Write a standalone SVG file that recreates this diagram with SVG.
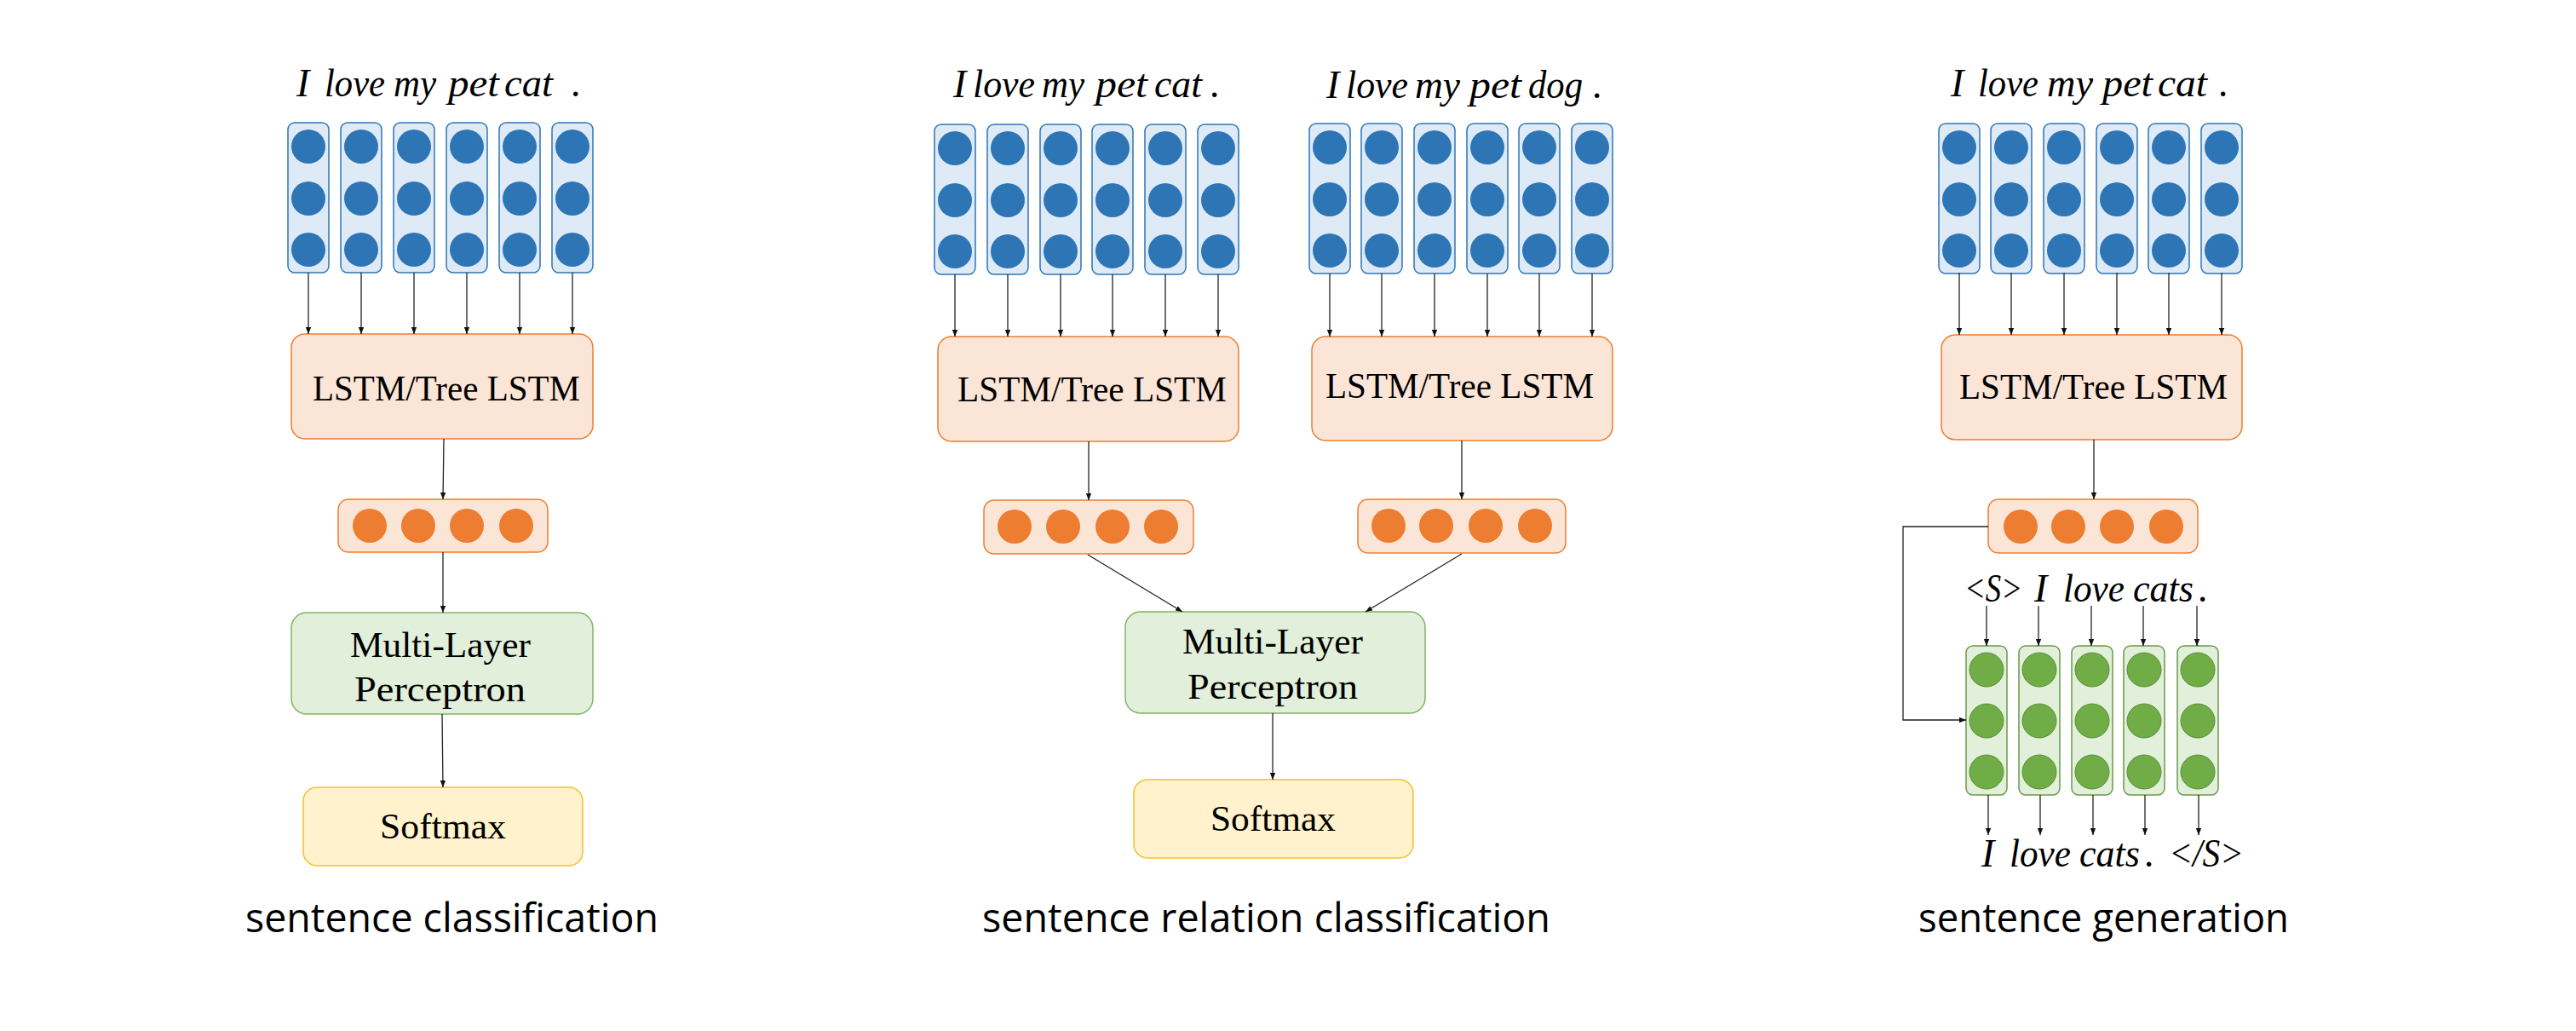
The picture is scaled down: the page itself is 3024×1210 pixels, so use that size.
<svg xmlns="http://www.w3.org/2000/svg" width="3024" height="1210" viewBox="0 0 3024 1210">
<style>
.bg{fill:#ffffff}
.bcol{fill:#deebf7;stroke:#2e75b6;stroke-width:1.5}
.bdot{fill:#2e75b6}
.ocol{fill:#fbe5d6;stroke:#ed7d31;stroke-width:1.5}
.odot{fill:#ed7d31}
.gcol{fill:#e2efda;stroke:#6a9a4a;stroke-width:1.5}
.gdot{fill:#70ad47;stroke:#5a8f3a;stroke-width:1}
.mlp{fill:#e2efda;stroke:#82b366;stroke-width:1.5}
.soft{fill:#fff2cc;stroke:#f2c12e;stroke-width:1.5}
.lstm{fill:#fbe5d6;stroke:#ed7d31;stroke-width:1.5}
.lbl{font-family:"Liberation Serif","DejaVu Serif",serif;font-size:43px;fill:#000}
.it{font-family:"Liberation Serif","DejaVu Serif",serif;font-style:italic;font-size:46px;fill:#000}
.cap{font-family:"Open Sans","DejaVu Sans",sans-serif;font-size:47px;fill:#000}
.arr{stroke:#222;stroke-width:1.3;fill:none;marker-end:url(#ah)}
</style>
<defs>
<marker id="ah" markerUnits="userSpaceOnUse" markerWidth="10" markerHeight="8" refX="8" refY="4" orient="auto">
<path d="M0,0.8 L8,4 L0,7.2 z" fill="#111"/>
</marker>
<g id="bcolumn">
<rect class="bcol" x="0" y="0" width="48" height="176" rx="8"/>
<circle class="bdot" cx="24" cy="28" r="20"/>
<circle class="bdot" cx="24" cy="89" r="20"/>
<circle class="bdot" cx="24" cy="149" r="20"/>
</g>
<g id="gcolumn">
<rect class="gcol" x="0" y="0" width="48" height="175" rx="8"/>
<circle class="gdot" cx="24" cy="28" r="20"/>
<circle class="gdot" cx="24" cy="88" r="20"/>
<circle class="gdot" cx="24" cy="148" r="20"/>
</g>
</defs>
<rect class="bg" x="0" y="0" width="3024" height="1210"/>

<!-- ============ Panel 1: sentence classification ============ -->
<g id="p1-input">
<text class="it" x="348" y="113">I</text>
<text class="it" x="381" y="113" textLength="71" lengthAdjust="spacingAndGlyphs">love</text>
<text class="it" x="462" y="113" textLength="50" lengthAdjust="spacingAndGlyphs">my</text>
<text class="it" x="526" y="113" textLength="60" lengthAdjust="spacingAndGlyphs">pet</text>
<text class="it" x="592" y="113" textLength="57" lengthAdjust="spacingAndGlyphs">cat</text>
<text class="it" x="671" y="113">.</text>
<use href="#bcolumn" x="338" y="144"/>
<use href="#bcolumn" x="400" y="144"/>
<use href="#bcolumn" x="462" y="144"/>
<use href="#bcolumn" x="524" y="144"/>
<use href="#bcolumn" x="586" y="144"/>
<use href="#bcolumn" x="648" y="144"/>
</g>
<g id="p1-lstm">
<rect class="lstm" x="342" y="392" width="354" height="123" rx="16"/>
<text class="lbl" x="367" y="470" textLength="314" lengthAdjust="spacingAndGlyphs">LSTM/Tree LSTM</text>
</g>
<g id="p1-hidden">
<rect class="ocol" x="397" y="586" width="246" height="62" rx="12"/>
<circle class="odot" cx="434" cy="617" r="20"/>
<circle class="odot" cx="491" cy="617" r="20"/>
<circle class="odot" cx="548" cy="617" r="20"/>
<circle class="odot" cx="606" cy="617" r="20"/>
</g>
<g id="p1-mlp">
<rect class="mlp" x="342" y="719" width="354" height="119" rx="18"/>
<text class="lbl" x="411" y="771" textLength="212" lengthAdjust="spacingAndGlyphs">Multi-Layer</text>
<text class="lbl" x="416" y="823" textLength="201" lengthAdjust="spacingAndGlyphs">Perceptron</text>
</g>
<g id="p1-softmax">
<rect class="soft" x="356" y="924" width="328" height="92" rx="16"/>
<text class="lbl" x="446" y="984" textLength="148" lengthAdjust="spacingAndGlyphs">Softmax</text>
</g>
<text id="p1-caption" class="cap" x="288" y="1094" textLength="485" lengthAdjust="spacingAndGlyphs">sentence classification</text>

<!-- ============ Panel 2: sentence relation classification ============ -->
<g id="p2-input-a">
<text class="it" x="1119" y="114">I</text>
<text class="it" x="1142" y="114" textLength="73" lengthAdjust="spacingAndGlyphs">love</text>
<text class="it" x="1223" y="114" textLength="50" lengthAdjust="spacingAndGlyphs">my</text>
<text class="it" x="1286" y="114" textLength="61" lengthAdjust="spacingAndGlyphs">pet</text>
<text class="it" x="1355" y="114" textLength="56" lengthAdjust="spacingAndGlyphs">cat</text>
<text class="it" x="1421" y="114">.</text>
<use href="#bcolumn" x="1097" y="146"/>
<use href="#bcolumn" x="1159" y="146"/>
<use href="#bcolumn" x="1221" y="146"/>
<use href="#bcolumn" x="1282" y="146"/>
<use href="#bcolumn" x="1344" y="146"/>
<use href="#bcolumn" x="1406" y="146"/>
</g>
<g id="p2-input-b">
<text class="it" x="1557" y="115">I</text>
<text class="it" x="1580" y="115" textLength="73" lengthAdjust="spacingAndGlyphs">love</text>
<text class="it" x="1661" y="115" textLength="53" lengthAdjust="spacingAndGlyphs">my</text>
<text class="it" x="1725" y="115" textLength="61" lengthAdjust="spacingAndGlyphs">pet</text>
<text class="it" x="1794" y="115" textLength="64" lengthAdjust="spacingAndGlyphs">dog</text>
<text class="it" x="1870" y="115">.</text>
<use href="#bcolumn" x="1537" y="145"/>
<use href="#bcolumn" x="1598" y="145"/>
<use href="#bcolumn" x="1660" y="145"/>
<use href="#bcolumn" x="1722" y="145"/>
<use href="#bcolumn" x="1783" y="145"/>
<use href="#bcolumn" x="1845" y="145"/>
</g>
<g id="p2-lstm-a">
<rect class="lstm" x="1101" y="395" width="353" height="123" rx="16"/>
<text class="lbl" x="1124" y="471" textLength="316" lengthAdjust="spacingAndGlyphs">LSTM/Tree LSTM</text>
</g>
<g id="p2-lstm-b">
<rect class="lstm" x="1540" y="395" width="353" height="122" rx="16"/>
<text class="lbl" x="1556" y="467" textLength="315" lengthAdjust="spacingAndGlyphs">LSTM/Tree LSTM</text>
</g>
<g id="p2-hidden-a">
<rect class="ocol" x="1155" y="587" width="246" height="63" rx="12"/>
<circle class="odot" cx="1191" cy="618" r="20"/>
<circle class="odot" cx="1248" cy="618" r="20"/>
<circle class="odot" cx="1306" cy="618" r="20"/>
<circle class="odot" cx="1363" cy="618" r="20"/>
</g>
<g id="p2-hidden-b">
<rect class="ocol" x="1594" y="586" width="244" height="63" rx="12"/>
<circle class="odot" cx="1630" cy="617" r="20"/>
<circle class="odot" cx="1686" cy="617" r="20"/>
<circle class="odot" cx="1744" cy="617" r="20"/>
<circle class="odot" cx="1802" cy="617" r="20"/>
</g>
<g id="p2-mlp">
<rect class="mlp" x="1321" y="718" width="352" height="119" rx="18"/>
<text class="lbl" x="1388" y="767" textLength="212" lengthAdjust="spacingAndGlyphs">Multi-Layer</text>
<text class="lbl" x="1394" y="820" textLength="200" lengthAdjust="spacingAndGlyphs">Perceptron</text>
</g>
<g id="p2-softmax">
<rect class="soft" x="1331" y="915" width="328" height="92" rx="16"/>
<text class="lbl" x="1421" y="975" textLength="147" lengthAdjust="spacingAndGlyphs">Softmax</text>
</g>
<text id="p2-caption" class="cap" x="1153" y="1094" textLength="667" lengthAdjust="spacingAndGlyphs">sentence relation classification</text>

<!-- ============ Panel 3: sentence generation ============ -->
<g id="p3-input">
<text class="it" x="2290" y="113">I</text>
<text class="it" x="2322" y="113" textLength="71" lengthAdjust="spacingAndGlyphs">love</text>
<text class="it" x="2403" y="113" textLength="54" lengthAdjust="spacingAndGlyphs">my</text>
<text class="it" x="2468" y="113" textLength="59" lengthAdjust="spacingAndGlyphs">pet</text>
<text class="it" x="2533" y="113" textLength="58" lengthAdjust="spacingAndGlyphs">cat</text>
<text class="it" x="2605" y="113">.</text>
<use href="#bcolumn" x="2276" y="145"/>
<use href="#bcolumn" x="2337" y="145"/>
<use href="#bcolumn" x="2399" y="145"/>
<use href="#bcolumn" x="2461" y="145"/>
<use href="#bcolumn" x="2522" y="145"/>
<use href="#bcolumn" x="2584" y="145"/>
</g>
<g id="p3-lstm">
<rect class="lstm" x="2279" y="393" width="353" height="123" rx="16"/>
<text class="lbl" x="2300" y="468" textLength="315" lengthAdjust="spacingAndGlyphs">LSTM/Tree LSTM</text>
</g>
<g id="p3-hidden">
<rect class="ocol" x="2334" y="586" width="246" height="63" rx="12"/>
<circle class="odot" cx="2372" cy="618" r="20"/>
<circle class="odot" cx="2428" cy="618" r="20"/>
<circle class="odot" cx="2485" cy="618" r="20"/>
<circle class="odot" cx="2543" cy="618" r="20"/>
</g>
<g id="p3-decoder">
<text class="it" x="2306" y="706" textLength="68" lengthAdjust="spacingAndGlyphs">&lt;S&gt;</text>
<text class="it" x="2388" y="706">I</text>
<text class="it" x="2422" y="706" textLength="72" lengthAdjust="spacingAndGlyphs">love</text>
<text class="it" x="2504" y="706" textLength="71" lengthAdjust="spacingAndGlyphs">cats</text>
<text class="it" x="2581" y="706">.</text>
<use href="#gcolumn" x="2308" y="758"/>
<use href="#gcolumn" x="2370" y="758"/>
<use href="#gcolumn" x="2432" y="758"/>
<use href="#gcolumn" x="2493" y="758"/>
<use href="#gcolumn" x="2556" y="758"/>
<text class="it" x="2326" y="1017">I</text>
<text class="it" x="2359" y="1017" textLength="72" lengthAdjust="spacingAndGlyphs">love</text>
<text class="it" x="2441" y="1017" textLength="71" lengthAdjust="spacingAndGlyphs">cats</text>
<text class="it" x="2518" y="1017">.</text>
<text class="it" x="2546" y="1017" textLength="88" lengthAdjust="spacingAndGlyphs">&lt;/S&gt;</text>
</g>
<text id="p3-caption" class="cap" x="2252" y="1094" textLength="435" lengthAdjust="spacingAndGlyphs">sentence generation</text>

<!-- ============ Connectors ============ -->
<g id="connectors">
<!-- panel 1 -->
<line class="arr" x1="362" y1="320" x2="362" y2="392"/>
<line class="arr" x1="424" y1="320" x2="424" y2="392"/>
<line class="arr" x1="486" y1="320" x2="486" y2="392"/>
<line class="arr" x1="548" y1="320" x2="548" y2="392"/>
<line class="arr" x1="610" y1="320" x2="610" y2="392"/>
<line class="arr" x1="672" y1="320" x2="672" y2="392"/>
<line class="arr" x1="521" y1="515" x2="520" y2="586"/>
<line class="arr" x1="520" y1="648" x2="520" y2="719"/>
<line class="arr" x1="519" y1="838" x2="520" y2="924"/>
<!-- panel 2 -->
<line class="arr" x1="1121" y1="322" x2="1121" y2="395"/>
<line class="arr" x1="1183" y1="322" x2="1183" y2="395"/>
<line class="arr" x1="1245" y1="322" x2="1245" y2="395"/>
<line class="arr" x1="1306" y1="322" x2="1306" y2="395"/>
<line class="arr" x1="1368" y1="322" x2="1368" y2="395"/>
<line class="arr" x1="1430" y1="322" x2="1430" y2="395"/>
<line class="arr" x1="1561" y1="321" x2="1561" y2="395"/>
<line class="arr" x1="1622" y1="321" x2="1622" y2="395"/>
<line class="arr" x1="1684" y1="321" x2="1684" y2="395"/>
<line class="arr" x1="1746" y1="321" x2="1746" y2="395"/>
<line class="arr" x1="1807" y1="321" x2="1807" y2="395"/>
<line class="arr" x1="1869" y1="321" x2="1869" y2="395"/>
<line class="arr" x1="1278" y1="518" x2="1278" y2="587"/>
<line class="arr" x1="1716" y1="517" x2="1716" y2="586"/>
<line class="arr" x1="1277" y1="651" x2="1388" y2="718"/>
<line class="arr" x1="1716" y1="650" x2="1603" y2="718"/>
<line class="arr" x1="1494" y1="837" x2="1494" y2="915"/>
<!-- panel 3 -->
<line class="arr" x1="2300" y1="320" x2="2300" y2="393"/>
<line class="arr" x1="2361" y1="320" x2="2361" y2="393"/>
<line class="arr" x1="2423" y1="320" x2="2423" y2="393"/>
<line class="arr" x1="2485" y1="320" x2="2485" y2="393"/>
<line class="arr" x1="2546" y1="320" x2="2546" y2="393"/>
<line class="arr" x1="2608" y1="320" x2="2608" y2="393"/>
<line class="arr" x1="2458" y1="516" x2="2458" y2="586"/>
<path class="arr" d="M2334,618 H2234 V845 H2308"/>
<line class="arr" x1="2332" y1="711" x2="2332" y2="758"/>
<line class="arr" x1="2393" y1="711" x2="2393" y2="758"/>
<line class="arr" x1="2455" y1="711" x2="2455" y2="758"/>
<line class="arr" x1="2516" y1="711" x2="2516" y2="758"/>
<line class="arr" x1="2579" y1="711" x2="2579" y2="758"/>
<line class="arr" x1="2334" y1="933" x2="2334" y2="980"/>
<line class="arr" x1="2395" y1="933" x2="2395" y2="980"/>
<line class="arr" x1="2457" y1="933" x2="2457" y2="980"/>
<line class="arr" x1="2518" y1="933" x2="2518" y2="980"/>
<line class="arr" x1="2581" y1="933" x2="2581" y2="980"/>
</g>
</svg>
